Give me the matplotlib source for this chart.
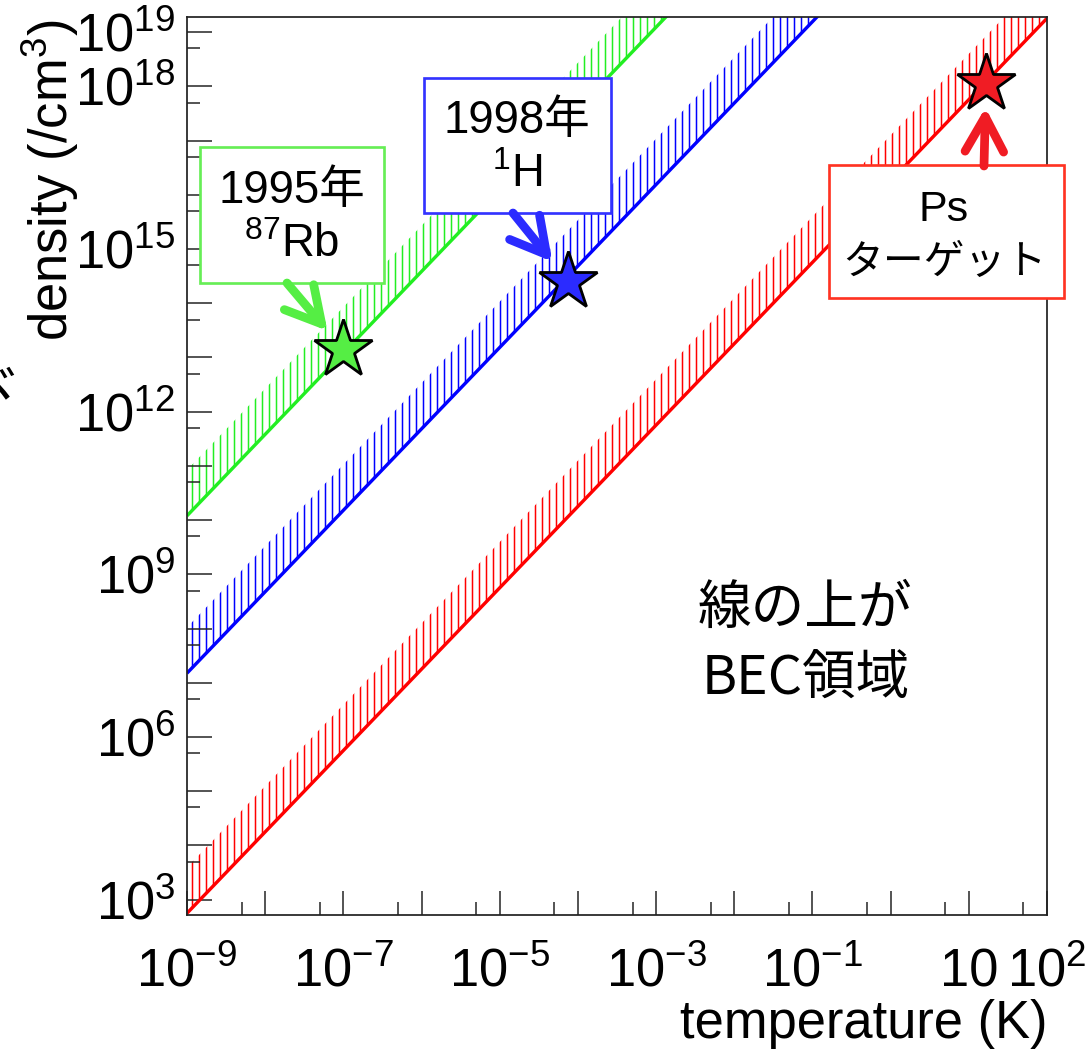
import matplotlib
matplotlib.use('Agg')
import matplotlib.pyplot as plt
from matplotlib.patches import Rectangle
from matplotlib.ticker import NullFormatter
import numpy as np

W, H, DPI = 1087, 1054, 84

plt.rcParams['font.family'] = ['Liberation Sans', 'Noto Sans CJK JP']
plt.rcParams['mathtext.fontset'] = 'custom'
plt.rcParams['mathtext.rm'] = 'Liberation Sans'
plt.rcParams['mathtext.it'] = 'Liberation Sans:italic'
plt.rcParams['mathtext.bf'] = 'Liberation Sans:bold'
plt.rcParams['mathtext.default'] = 'rm'
plt.rcParams['hatch.linewidth'] = 1.3

# BEC critical lines (density at the ends of the temperature range)
temp_ends = [1e-9, 1e2]
rb87_density = [1.2e10, 4.0e26]
h1_density = [1.5e7, 5.0e23]
ps_density = [5.6e2, 1.8e19]

# achieved / target points
star_temp = [1e-7, 7.4e-5, 16.6]
star_density = [1.4e13, 2.6e14, 1.15e18]

line_colors = ['#22ee22', '#0000ff', '#ff0000']
mark_colors = ['#55ee44', '#2b2bff', '#f01c24']
box_edges = ['#66ee55', '#3333ff', '#ff3322']

x_major = [10.0**k for k in range(-9, 3)]
x_labels = {-9: '$10^{-9}$', -7: '$10^{-7}$', -5: '$10^{-5}$', -3: '$10^{-3}$',
            -1: '$10^{-1}$', 1: '10', 2: '$10^{2}$'}
y_major = [10.0**k for k in range(3, 20)]
y_labels = {3: '$10^{3}$', 6: '$10^{6}$', 9: '$10^{9}$', 12: '$10^{12}$',
            15: '$10^{15}$', 18: '$10^{18}$', 19: '$10^{19}$'}

fig = plt.figure(figsize=(W / DPI, H / DPI), dpi=DPI)
ax = fig.add_axes([187 / W, (H - 915) / H, 860 / W, 898 / H])
ax.set_xscale('log')
ax.set_yscale('log')


def px(x, y):
    return x / W, 1 - y / H


# lines with hatched band above (BEC side)
for dens, c in zip([rb87_density, h1_density, ps_density], line_colors):
    d = np.array(dens)
    ax.fill_between(temp_ends, d, d * 7.0, facecolor='none', edgecolor=c,
                    linewidth=0, hatch='||', zorder=1)
    ax.plot(temp_ends, d, color=c, lw=2.9, zorder=2, solid_capstyle='butt')

# labelled boxes
boxes = [(200, 147, 384, 283), (424, 78, 611, 213), (829, 165, 1064, 298)]
for (x0, y0, x1, y1), ec in zip(boxes, box_edges):
    r = Rectangle(px(x0, y1), (x1 - x0) / W, (y1 - y0) / H, transform=fig.transFigure,
                  facecolor='white', edgecolor=ec, lw=2.3, zorder=4, clip_on=False)
    ax.add_artist(r)

fig.text(*px(292, 191), '1995年', fontsize=39, ha='center', va='center', zorder=5)
fig.text(*px(292, 245), '$^{87}$Rb', fontsize=39, ha='center', va='center', zorder=5)
fig.text(*px(517, 121), '1998年', fontsize=39, ha='center', va='center', zorder=5)
fig.text(*px(517, 175), '$^{1}$H', fontsize=39, ha='center', va='center', zorder=5)
fig.text(*px(944, 210), 'Ps', fontsize=37, ha='center', va='center', zorder=5)
fig.text(*px(944, 262), 'ターゲット', fontsize=35, ha='center', va='center', zorder=5,
         family=['Noto Sans CJK JP'])

# arrows from boxes to stars
arrow_starts = [px(287, 283), px(513, 213), px(984, 166)]
for (T, n), start, c in zip(zip(star_temp, star_density), arrow_starts, mark_colors):
    ax.annotate('', xy=(T, n), xycoords='data', xytext=start, textcoords='figure fraction',
                arrowprops=dict(arrowstyle='->,head_length=1.0,head_width=0.55',
                                mutation_scale=30, lw=7.5, color=c, shrinkA=0, shrinkB=21,
                                capstyle='round', joinstyle='round'),
                zorder=5)

for T, n, c in zip(star_temp, star_density, mark_colors):
    ax.plot([T], [n], marker='*', ms=52, mfc=c, mec='black', mew=2.4, zorder=6,
            clip_on=False)

ax.text(*px(805, 608), '線の上が', transform=fig.transFigure, fontsize=46,
        ha='center', va='center', family=['Noto Sans CJK JP'])
ax.text(*px(806, 678), 'BEC領域', transform=fig.transFigure, fontsize=46,
        ha='center', va='center', family=['Noto Sans CJK JP'])

# axes / ticks
ax.set_xticks(x_major, [x_labels.get(int(round(np.log10(v))), '') for v in x_major])
ax.set_yticks(y_major, [y_labels.get(int(round(np.log10(v))), '') for v in y_major])
ax.set_xticks([5 * v for v in x_major[:-1]], minor=True)
ax.set_yticks([5 * v for v in y_major[:-1]] + [5e2], minor=True)
ax.xaxis.set_minor_formatter(NullFormatter())
ax.yaxis.set_minor_formatter(NullFormatter())
ax.set_xlim(1e-9, 1e2)
ax.set_ylim(5.2e2, 1.9e19)
ax.tick_params(which='both', direction='in', top=False, right=False, width=1.3,
               color='#222222', labelsize=45)
ax.tick_params(which='major', length=21)
ax.tick_params(which='minor', length=11)
ax.tick_params(axis='y', pad=10)
ax.tick_params(axis='x', pad=28, labelsize=45)
for s in ax.spines.values():
    s.set_linewidth(1.5)
    s.set_color('#222222')

ax.text(1.0, -0.121, 'temperature (K)', transform=ax.transAxes, fontsize=45,
        ha='right', va='center')
ax.text(-0.159, 0.997, 'density (/cm$^3$)', transform=ax.transAxes, fontsize=45,
        rotation=90, ha='center', va='top')
# fragment of a character cut by the left edge
fig.text(-0.002, 1 - 390 / H, 'ヾ', fontsize=45, ha='center', va='center',
         family=['Noto Sans CJK JP'])

fig.savefig('out.png', dpi=DPI)
print('Saved out.png')
